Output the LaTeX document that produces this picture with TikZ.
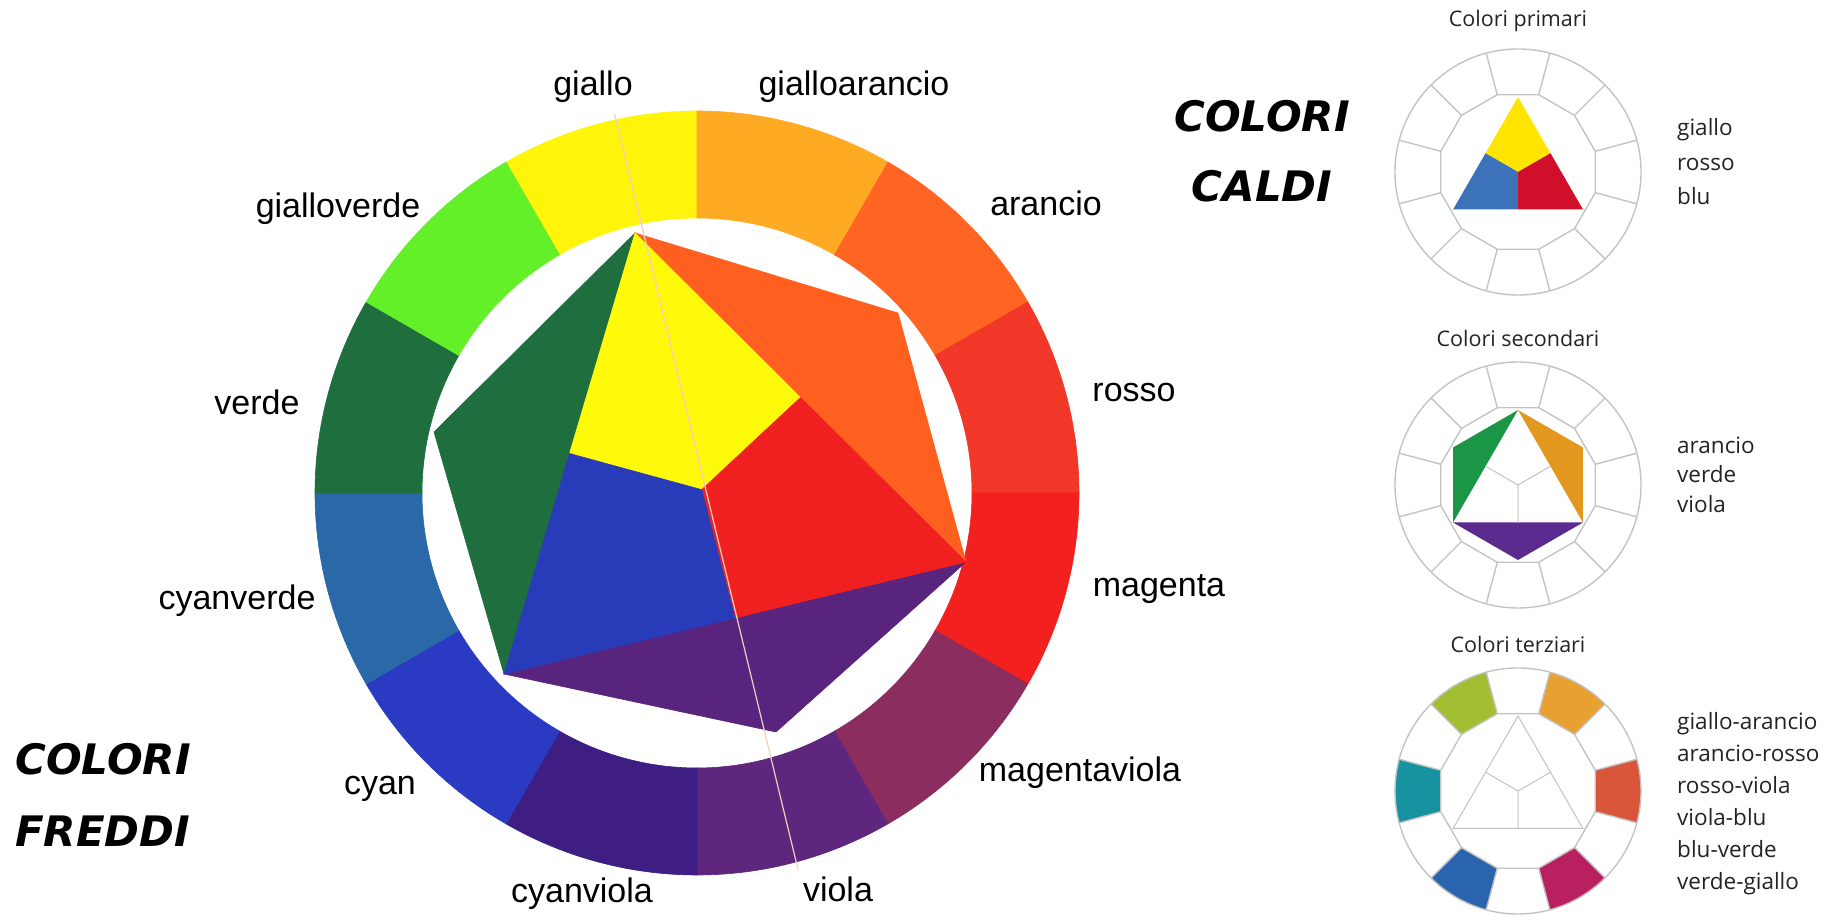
\documentclass[tikz,border=0pt]{standalone}
\usepackage{fontspec}
\setmainfont{Liberation Sans}
\newfontfamily\titlefont{DejaVu Sans Bold Oblique}
\newfontfamily\notefont{Open Sans}
\usetikzlibrary{calc}

% ring colours
\definecolor{cGiallo}{RGB}{255,245,10}
\definecolor{cGialloArancio}{RGB}{255,170,35}
\definecolor{cArancio}{RGB}{255,100,35}
\definecolor{cRosso}{RGB}{240,55,40}
\definecolor{cMagenta}{RGB}{242,32,30}
\definecolor{cMagentaViola}{RGB}{140,45,95}
\definecolor{cViola}{RGB}{95,38,125}
\definecolor{cCyanViola}{RGB}{62,30,130}
\definecolor{cCyan}{RGB}{42,58,195}
\definecolor{cCyanVerde}{RGB}{42,104,168}
\definecolor{cVerde}{RGB}{30,110,62}
\definecolor{cGialloVerde}{RGB}{100,240,40}
% inner colours
\definecolor{tGreen}{RGB}{30,110,62}
\definecolor{tOrange}{RGB}{255,96,32}
\definecolor{tPurple}{RGB}{88,36,125}
\definecolor{tYellow}{RGB}{255,250,10}
\definecolor{tRed}{RGB}{240,32,32}
\definecolor{tBlue}{RGB}{40,60,185}
% small wheels
\definecolor{pYellow}{RGB}{255,228,0}
\definecolor{pBlue}{RGB}{59,114,185}
\definecolor{pRed}{RGB}{208,16,42}
\definecolor{sGreen}{RGB}{26,150,70}
\definecolor{sOrange}{RGB}{226,152,30}
\definecolor{sViolet}{RGB}{90,42,142}
\definecolor{zOlive}{RGB}{162,190,50}
\definecolor{zOrange}{RGB}{232,160,48}
\definecolor{zRed}{RGB}{216,85,58}
\definecolor{zCrimson}{RGB}{184,32,96}
\definecolor{zBlue}{RGB}{42,100,174}
\definecolor{zTeal}{RGB}{22,146,160}
\definecolor{notegray}{RGB}{35,35,35}
\definecolor{framegray}{RGB}{195,195,195}
\definecolor{splitline}{RGB}{238,208,195}

\tikzset{
  lbl/.style={anchor=base, inner sep=0pt, font=\fontsize{34}{40}\selectfont},
  hot/.style={anchor=base, inner sep=0pt, font=\titlefont\fontsize{42}{48}\selectfont},
  note/.style={anchor=base west, inner sep=0pt, text=notegray, font=\notefont\fontsize{22.5}{27}\selectfont},
  wheeltitle/.style={anchor=base, inner sep=0pt, text=notegray, font=\notefont\fontsize{21.5}{26}\selectfont},
  seg/.style={line width=0.6pt},
  frame/.style={draw=framegray, line width=1.4pt},
  thinframe/.style={draw=framegray, line width=1pt},
}

\begin{document}
\begin{tikzpicture}[x=1pt, y=1pt]
    \useasboundingbox (0,0) rectangle (1829,920);

    % Outer ring of twelve colours
    \begin{scope}[shift={(697,427)}]
    \filldraw[cGiallo, seg] (90:275) -- (90:382) arc[start angle=90, end angle=120, radius=382] -- (120:275) arc[start angle=120, end angle=90, radius=275] -- cycle;
    \filldraw[cGialloArancio, seg] (60:275) -- (60:382) arc[start angle=60, end angle=90, radius=382] -- (90:275) arc[start angle=90, end angle=60, radius=275] -- cycle;
    \filldraw[cArancio, seg] (30:275) -- (30:382) arc[start angle=30, end angle=60, radius=382] -- (60:275) arc[start angle=60, end angle=30, radius=275] -- cycle;
    \filldraw[cRosso, seg] (0:275) -- (0:382) arc[start angle=0, end angle=30, radius=382] -- (30:275) arc[start angle=30, end angle=0, radius=275] -- cycle;
    \filldraw[cMagenta, seg] (-30:275) -- (-30:382) arc[start angle=-30, end angle=0, radius=382] -- (0:275) arc[start angle=0, end angle=-30, radius=275] -- cycle;
    \filldraw[cMagentaViola, seg] (-60:275) -- (-60:382) arc[start angle=-60, end angle=-30, radius=382] -- (-30:275) arc[start angle=-30, end angle=-60, radius=275] -- cycle;
    \filldraw[cViola, seg] (-90:275) -- (-90:382) arc[start angle=-90, end angle=-60, radius=382] -- (-60:275) arc[start angle=-60, end angle=-90, radius=275] -- cycle;
    \filldraw[cCyanViola, seg] (-120:275) -- (-120:382) arc[start angle=-120, end angle=-90, radius=382] -- (-90:275) arc[start angle=-90, end angle=-120, radius=275] -- cycle;
    \filldraw[cCyan, seg] (-150:275) -- (-150:382) arc[start angle=-150, end angle=-120, radius=382] -- (-120:275) arc[start angle=-120, end angle=-150, radius=275] -- cycle;
    \filldraw[cCyanVerde, seg] (180:275) -- (180:382) arc[start angle=180, end angle=210, radius=382] -- (210:275) arc[start angle=210, end angle=180, radius=275] -- cycle;
    \filldraw[cVerde, seg] (150:275) -- (150:382) arc[start angle=150, end angle=180, radius=382] -- (180:275) arc[start angle=180, end angle=150, radius=275] -- cycle;
    \filldraw[cGialloVerde, seg] (120:275) -- (120:382) arc[start angle=120, end angle=150, radius=382] -- (150:275) arc[start angle=150, end angle=120, radius=275] -- cycle;
    \end{scope}

    % Hexagon corners
    \coordinate (Y) at (635,687);
    \coordinate (O) at (898,607);
    \coordinate (R) at (966,358);
    \coordinate (V) at (776,188);
    \coordinate (B) at (504,246);
    \coordinate (G) at (434,488);
    \coordinate (P) at ($1/3*(Y)+1/3*(R)+1/3*(B)$);

    % Secondary triangles
    \filldraw[tGreen, seg] (B) -- (G) -- (Y) -- cycle;
    \filldraw[tOrange, seg] (Y) -- (O) -- (R) -- cycle;
    \filldraw[tPurple, seg] (R) -- (V) -- (B) -- cycle;
    % Primary triangle
    \filldraw[tYellow, seg] (Y) -- ($(Y)!.5!(R)$) -- (P) -- ($(B)!.5!(Y)$) -- cycle;
    \filldraw[tRed, seg] (R) -- ($(R)!.5!(B)$) -- (P) -- ($(Y)!.5!(R)$) -- cycle;
    \filldraw[tBlue, seg] (B) -- ($(B)!.5!(Y)$) -- (P) -- ($(R)!.5!(B)$) -- cycle;

    % Dividing line
    \draw[splitline, line width=1.2pt] (614.7,805.7) -- (797.9,51);

    % Ring labels
    \node[lbl] (giallo) at (593,824) {giallo};
    \node[lbl] (gialloarancio) at (854,824) {gialloarancio};
    \node[lbl] (arancio) at (1046,704) {arancio};
    \node[lbl] (rosso) at (1134,518) {rosso};
    \node[lbl] (magenta) at (1159,323) {magenta};
    \node[lbl] (magentaviola) at (1080,138) {magentaviola};
    \node[lbl] (viola) at (838,18) {viola};
    \node[lbl] (cyanviola) at (582,17) {cyanviola};
    \node[lbl] (cyan) at (380,125) {cyan};
    \node[lbl] (cyanverde) at (237,310) {cyanverde};
    \node[lbl] (verde) at (257,505) {verde};
    \node[lbl] (gialloverde) at (338,702) {gialloverde};

    \node[hot] (caldiA) at (1262,788) {COLORI};
    \node[hot] (caldiB) at (1262,718) {CALDI};
    \node[hot, anchor=base west] (freddiA) at (15,145) {COLORI};
    \node[hot, anchor=base west] (freddiB) at (15,73) {FREDDI};

    % Colori primari
    \begin{scope}[shift={(1518,748)}]
    \fill[pYellow] (90:75) -- (30:37.5) -- (0,0) -- (150:37.5) -- cycle;
    \fill[pBlue] (210:75) -- (150:37.5) -- (0,0) -- (270:37.5) -- cycle;
    \fill[pRed] (330:75) -- (30:37.5) -- (0,0) -- (270:37.5) -- cycle;
    \draw[frame] (0,0) circle[radius=123];
    \draw[frame] (15:80) \foreach \a in {45,75,...,345} {-- (\a:80)} -- cycle;
    \foreach \a in {15,45,...,345} \draw[frame] (\a:80) -- (\a:123);
    \end{scope}
    \node[wheeltitle] (titprim) at (1518,893) {Colori primari};
    \node[note] (pgiallo) at (1677,784) {giallo};
    \node[note] (prosso) at (1677,749) {rosso};
    \node[note] (pblu) at (1677,715) {blu};

    % Colori secondari
    \begin{scope}[shift={(1518,435)}]
    \fill[sGreen] (90:75) -- (150:75) -- (210:75) -- cycle;
    \fill[sOrange] (90:75) -- (30:75) -- (330:75) -- cycle;
    \fill[sViolet] (210:75) -- (270:75) -- (330:75) -- cycle;
    \draw[thinframe] (0,0) -- (30:37.5) (0,0) -- (150:37.5) (0,0) -- (270:37.5);
    \draw[frame] (0,0) circle[radius=123];
    \draw[frame] (15:80) \foreach \a in {45,75,...,345} {-- (\a:80)} -- cycle;
    \foreach \a in {15,45,...,345} \draw[frame] (\a:80) -- (\a:123);
    \end{scope}
    \node[wheeltitle] (titsec) at (1518,573) {Colori secondari};
    \node[note] (sarancio) at (1677,466) {arancio};
    \node[note] (sverde) at (1677,437) {verde};
    \node[note] (sviola) at (1677,407) {viola};

    % Colori terziari
    \begin{scope}[shift={(1518,129)}]
    \fill[zOlive] (105:80) -- (105:123) arc[start angle=105, end angle=135, radius=123] -- (135:80) -- cycle;
    \fill[zOrange] (45:80) -- (45:123) arc[start angle=45, end angle=75, radius=123] -- (75:80) -- cycle;
    \fill[zRed] (-15:80) -- (-15:123) arc[start angle=-15, end angle=15, radius=123] -- (15:80) -- cycle;
    \fill[zCrimson] (-75:80) -- (-75:123) arc[start angle=-75, end angle=-45, radius=123] -- (-45:80) -- cycle;
    \fill[zBlue] (-135:80) -- (-135:123) arc[start angle=-135, end angle=-105, radius=123] -- (-105:80) -- cycle;
    \fill[zTeal] (165:80) -- (165:123) arc[start angle=165, end angle=195, radius=123] -- (195:80) -- cycle;
    \draw[thinframe] (90:75) -- (210:75) -- (330:75) -- cycle;
    \draw[thinframe] (0,0) -- (30:37.5) (0,0) -- (150:37.5) (0,0) -- (270:37.5);
    \draw[frame] (0,0) circle[radius=123];
    \draw[frame] (15:80) \foreach \a in {45,75,...,345} {-- (\a:80)} -- cycle;
    \foreach \a in {15,45,...,345} \draw[frame] (\a:80) -- (\a:123);
    \end{scope}
    \node[wheeltitle] (titter) at (1518,267) {Colori terziari};
    \node[note] (tga) at (1677,190) {giallo-arancio};
    \node[note] (tar) at (1677,158) {arancio-rosso};
    \node[note] (trv) at (1677,126) {rosso-viola};
    \node[note] (tvb) at (1677,94) {viola-blu};
    \node[note] (tbv) at (1677,62) {blu-verde};
    \node[note] (tvg) at (1677,30) {verde-giallo};
\end{tikzpicture}
\end{document}
